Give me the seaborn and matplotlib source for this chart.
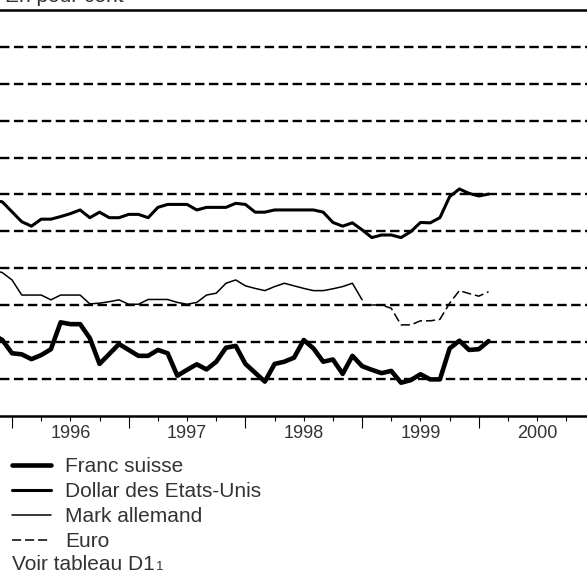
import numpy as np
import pandas as pd
import matplotlib
matplotlib.use('Agg')
import matplotlib.pyplot as plt
from matplotlib.ticker import FixedLocator, FuncFormatter, NullFormatter
import seaborn as sns

# Taux mensuels (fin de mois), en pour cent
mois = pd.period_range('1995-10', '2000-01', freq='M')

franc_suisse = [2.20, 2.05, 1.69, 1.66, 1.53, 1.64, 1.80, 2.53, 2.48, 2.48, 2.10, 1.40,
                1.67, 1.94, 1.78, 1.62, 1.62, 1.78, 1.69, 1.08, 1.24, 1.39, 1.25, 1.46,
                1.84, 1.89, 1.40, 1.16, 0.92, 1.40, 1.46, 1.57, 2.05, 1.82, 1.46, 1.52,
                1.13, 1.62, 1.34, 1.24, 1.15, 1.21, 0.89, 0.96, 1.12, 0.98, 0.98, 1.82,
                2.03, 1.78, 1.80, 2.02]
dollar = [5.85, 5.80, 5.53, 5.26, 5.14, 5.33, 5.33, 5.40, 5.48, 5.58, 5.37, 5.52,
          5.37, 5.37, 5.46, 5.46, 5.37, 5.65, 5.73, 5.73, 5.73, 5.58, 5.65, 5.65,
          5.65, 5.76, 5.73, 5.52, 5.52, 5.58, 5.58, 5.58, 5.58, 5.58, 5.52, 5.24,
          5.14, 5.23, 5.04, 4.83, 4.90, 4.90, 4.83, 4.99, 5.24, 5.23, 5.37, 5.94,
          6.15, 6.03, 5.96, 6.01]
# Mark jusqu'en dec. 1998, euro a partir de janv. 1999
mark = [3.95, 3.88, 3.68, 3.27, 3.27, 3.27, 3.14, 3.27, 3.27, 3.27, 3.03, 3.05,
        3.09, 3.14, 3.02, 3.02, 3.15, 3.15, 3.15, 3.07, 3.02, 3.07, 3.27, 3.32,
        3.59, 3.68, 3.52, 3.45, 3.39, 3.50, 3.59, 3.52, 3.45, 3.39, 3.39, 3.44,
        3.50, 3.59, 3.14]
euro = [3.00, 3.00, 2.91, 2.46, 2.46, 2.57, 2.57, 2.61, 3.05, 3.39, 3.31, 3.24, 3.36]

annees = [1996, 1997, 1998, 1999, 2000]

# date decimale (fin de mois)
t = np.asarray(mois.year + mois.month / 12.0, dtype=float)

df = pd.concat([
    pd.DataFrame({'t': t, 'taux': franc_suisse, 'serie': 'Franc suisse'}),
    pd.DataFrame({'t': t, 'taux': dollar, 'serie': 'Dollar des Etats-Unis'}),
    pd.DataFrame({'t': t[:len(mark)], 'taux': mark, 'serie': 'Mark allemand'}),
    pd.DataFrame({'t': t[len(mark):], 'taux': euro, 'serie': 'Euro'}),
])

sns.set_style('ticks')
plt.rcParams['font.family'] = ['Liberation Sans', 'DejaVu Sans']

fig = plt.figure(figsize=(5.87, 5.76), dpi=100)
ax = fig.add_axes([0, 1 - 415.5 / 576, 1, 405.2 / 576])

styles = {
    'Franc suisse': dict(linewidth=3.3, linestyle='-'),
    'Dollar des Etats-Unis': dict(linewidth=2.2, linestyle='-'),
    'Mark allemand': dict(linewidth=1.1, linestyle='-'),
    'Euro': dict(linewidth=1.1, linestyle=(0, (6, 2.5))),
}
for name, kw in styles.items():
    sns.lineplot(data=df[df['serie'] == name], x='t', y='taux', ax=ax, color='black',
                 estimator=None, sort=True, legend=False, **kw)

# axes
ax.set_xlim(1995.897, 2000.927)
ax.set_ylim(0, 11)
ax.set_yticks(range(1, 11))
ax.tick_params(axis='y', left=False, labelleft=False)
ax.grid(axis='y', color='black', linestyle=(0, (4, 1.9)), linewidth=1.7)
ax.set_xlabel('')
ax.set_ylabel('')

for s in ['left', 'right']:
    ax.spines[s].set_visible(False)
for s in ['top', 'bottom']:
    ax.spines[s].set_linewidth(1.8)
    ax.spines[s].set_color('black')

ax.xaxis.set_major_locator(FixedLocator(annees))
ax.xaxis.set_major_formatter(NullFormatter())
ax.xaxis.set_minor_locator(FixedLocator(np.arange(1995.75, 2001.01, 0.25)))
ax.xaxis.set_minor_formatter(FuncFormatter(
    lambda v, p: str(int(v)) if abs(v - int(v) - 0.5) < 1e-6 else ''))
ax.tick_params(axis='x', which='major', bottom=True, length=8.6, width=0.8, color='black')
ax.tick_params(axis='x', which='minor', bottom=True, length=3.6, width=0.8, color='black',
               labelsize=13, labelcolor='#333333', pad=3)

# titre (coupe en haut)
fig.text(5 / 587, 1 - 2.5 / 576, 'En pour cent', fontsize=15, color='#333333',
         ha='left', va='baseline')

# legende
leg = fig.legend(handles=ax.lines[:4], labels=list(styles.keys()), loc='upper left',
                 bbox_to_anchor=(12 / 587, 1 - 457.5 / 576), frameon=False, borderpad=0,
                 borderaxespad=0, fontsize=15, handlelength=1.85, handletextpad=0.7,
                 labelspacing=0.28, labelcolor='#333333')

txt = fig.text(12 / 587, 5.5 / 576, 'Voir tableau D1', fontsize=15, color='#333333',
               ha='left', va='baseline')
fig.canvas.draw()
bb = txt.get_window_extent()
fig.text(bb.x1 / fig.bbox.width + 1 / 587, 5.5 / 576, '1', fontsize=9.5, color='#333333',
         ha='left', va='baseline')

fig.savefig('out.png', dpi=100)
